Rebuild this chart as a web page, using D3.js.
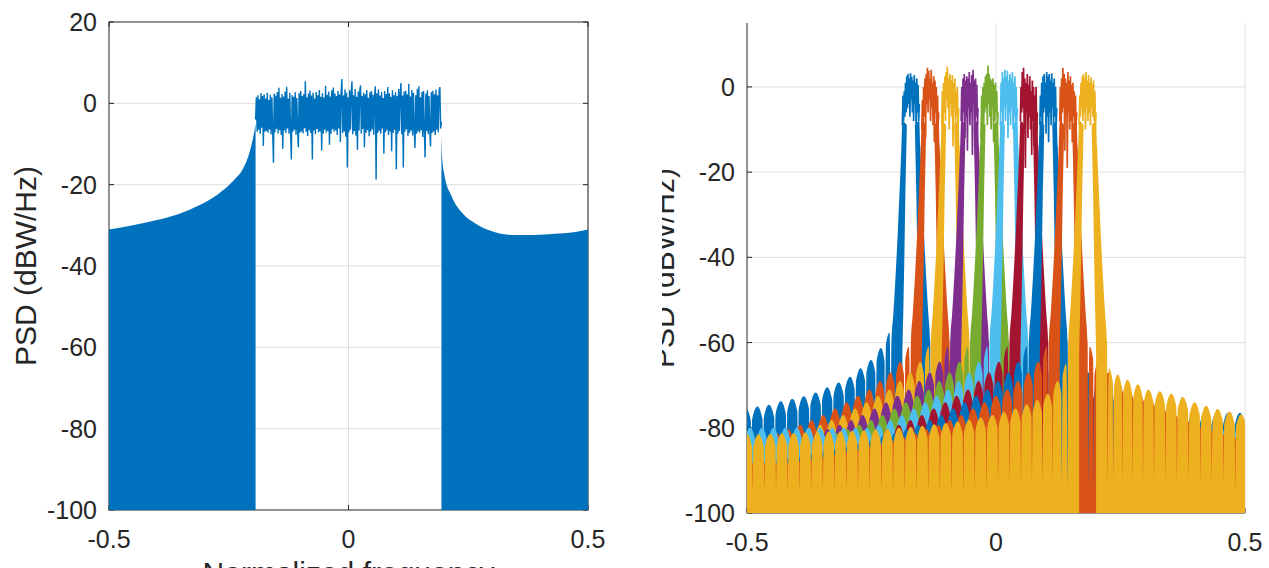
<!DOCTYPE html>
<html><head><meta charset="utf-8">
<script src="https://cdn.jsdelivr.net/npm/d3@7"></script>
<style>
body{margin:0;background:#fff}
svg{display:block}
text{font-family:"Liberation Sans",Arial,Helvetica,sans-serif;fill:#262626}
</style>
</head><body>
<svg id="chart" width="1269" height="568"></svg>
<script>
// ---------------- DATA ----------------
const xTickValues = [-0.5, 0, 0.5];
const xTickLabels = ["-0.5", "0", "0.5"];
const leftYTicks = [20, 0, -20, -40, -60, -80, -100];
const rightYTicks = [0, -20, -40, -60, -80, -100];
const yLabel = "PSD (dBW/Hz)";
const xLabel = "Normalized frequency";

// Left panel: stop-band envelope (densely oscillating, appears filled)
const stopLeftFreq = [-0.5, -0.45, -0.4, -0.35, -0.314, -0.273, -0.24, -0.219, -0.207, -0.198, -0.194];
const stopLeftDb   = [-31, -30, -28.7, -27, -25.2, -22.4, -19, -15.8, -12.2, -7.8, -5];
const stopRightFreq = [0.194, 0.196, 0.2, 0.215, 0.24, 0.264, 0.306, 0.347, 0.388, 0.43, 0.47, 0.5];
const stopRightDb   = [-8, -14, -17.5, -22.8, -27.3, -29.5, -31.7, -32.4, -32.4, -32.1, -31.7, -31];

// Left panel: pass-band PSD samples from -0.194 to 0.194
const passStart = -0.194, passEnd = 0.194;
const passbandDb = [
 -4, 1.5, -7, 2, -6.5, 1, -7.5, 2.5, -6, 1.8,
 -10.5, 2.2, -7, 1.2, -6.8, 2.6, -7.2, 0.8, -6.4, 2.1,
 -7.6, 1.5, -6.9, -14.6, 2.4, -7.1, 1.9, -6.3, 2.8, -7.4,
 3.8, -6.6, 1.4, -7.8, 2.3, -11.2, 1.7, -6.7, 2.9, -7.3,
 4.1, -6.2, 1.1, -7.5, 2.6, -6.8, -13.8, 2.0, -7.0, 1.6,
 -6.5, 2.7, -7.7, 1.3, -6.4, -10.8, 2.5, -7.2, 3.0, -6.9,
 1.8, -7.4, 2.2, -6.1, 5.4, -7.0, 1.5, -8.0, 2.4, -6.6,
 3.1, -7.3, 1.9, -13.8, 2.6, -6.7, 1.2, -7.6, 2.8, -6.3,
 2.0, -7.1, 3.3, -6.9, 1.6, -11.6, 2.5, -7.4, 1.4, -6.5,
 4.3, -7.2, 2.1, -6.8, 2.9, -10.2, 1.7, -7.5, 3.2, -6.4,
 3.9, -7.0, 2.4, -6.6, 1.8, -7.8, 3.0, -6.2, 2.2, -9.5,
 2.7, 6.0, -7.3, 1.9, -6.9, 3.4, -8.2, 2.6, -15.8, 1.5,
 -7.1, 3.2, -6.5, 2.8, 5.4, -7.6, 2.0, -6.8, 3.5, -7.9,
 1.6, -11.4, 2.9, -6.7, 3.1, 4.4, -7.4, 1.8, -6.3, 2.6,
 -10.8, 2.2, -7.2, 3.3, -6.6, 1.4, -8.1, 2.7, -7.0, 3.0,
 -6.4, 2.1, -7.7, 1.7, 4.2, -18.7, 2.5, -7.3, 3.4, -6.8,
 1.9, -7.5, 2.8, -6.2, 1.3, -12.4, 3.0, -7.1, 2.3, -6.6,
 4.0, -7.8, 2.5, -6.9, 1.6, -11.8, 3.2, -7.2, 2.0, -6.5,
 2.7, -16.2, 1.8, -7.4, 3.5, -6.8, 2.4, 5.0, -7.6, 1.9,
 -15.8, 2.9, -7.0, 3.1, -6.4, 2.2, -8.0, 4.8, -7.3, 1.7,
 -6.7, 3.3, -7.9, 2.6, -6.3, -11.0, 2.0, -7.5, 3.6, -6.9,
 4.2, -7.2, 1.5, -6.6, 2.8, -8.3, 3.0, -7.0, -13.3, 2.4,
 -6.8, 3.2, -7.6, 1.8, -6.4, -10.6, 2.7, -7.3, 3.1, -6.9,
 2.2, -7.8, 3.4, -6.5, 2.0, -7.1, 3.0, 4.0, -6.2, -4.5
];

// Right panel: ten channels
const channelCenters = [-0.171, -0.132, -0.092, -0.053, -0.013, 0.026, 0.066, 0.105, 0.145, 0.184];
const channelColors = ["#0072BD", "#D95319", "#EDB120", "#7E2F8E", "#77AC30", "#4DBEEE", "#A2142F", "#0072BD", "#D95319", "#EDB120"];
const channelPassbandDb = [
 [-9, -2, -8, -1, -7, 1, -6, 2.5, -5, 3, -4, 2, -7, 3.2, -3, 2.4, -6, 1.5, -8, 2.8, -4, 1, -10, 2, -6, 0.5, -8, -4],
 [-10, -3, -9, 0, -7, 2, -12, 3, -4, 4.5, -6, 3.8, -3, 2, -8, 4, -5, 1, -9, 2.5, -13, 1.5, -6, 0, -10, -2, -9, -6],
 [-9, -1, -12, 1, -6, 2.5, -8, 3.5, -3, 4.8, -5, 2, -10, 3, -4, 1.5, -7, 2.8, -14, 1, -5, 2, -9, -1, -7, 0, -10, -5],
 [-8, 0, -10, 2, -6, 3, -12, 1.5, -7, 2.5, -15, 2, -5, 3.5, -9, 1, -6, 2.8, -16, 4, -4, 1.5, -11, 2, -7, 0.5, -9, -5],
 [-12, -2, -8, 0, -14, 1, -6, 2.5, -5, 3, -9, 5, -4, 3, -7, 2, -10, 1.5, -5, 2, -13, 0.5, -8, 1, -6, -1, -9, -6],
 [-9, 1, -6, 3.5, -10, 2, -5, 4, -8, 2.5, -4, 3.8, -12, 1.5, -6, 3, -9, 2, -5, 3.5, -10, 1, -7, 2.5, -11, 0, -8, -5],
 [-8, 0, -6, 3.5, -5, 4.5, -9, 2, -19, 1, -6, 3, -12, 0.5, -7, 2.5, -10, -1, -16, 1.5, -8, 0, -14, -2, -9, 0, -11, -6],
 [-9, -2, -7, 1, -17, 2.5, -6, 3, -5, 1, -11, 3.5, -7, 2.5, -13, 3, -6, 1.5, -9, 3.2, -5, 1, -10, 2, -7, 0, -9, -5],
 [-8, 0, -12, 2, -6, 4.5, -5, 3, -15, 2, -7, 1, -19, 3.5, -6, 1.5, -10, 2.5, -8, 0.5, -13, 1, -7, -1, -10, -2, -9, -6],
 [-9, -2, -7, 1, -5, 2.5, -8, 3, -6, 2, -10, 3.5, -5, 1.5, -8, 2.8, -6, 1, -9, 2.2, -5, 0.5, -7, 1.5, -8, -1, -9, -6]
];
const passHalfWidth = 0.017;   // channel pass-band half width (normalized freq)
// inner edge of each channel's skirts (distance from centre -> dB)
const innerEdgeOffset = [0.008, 0.011, 0.013, 0.015, 0.017, 0.017];
const innerEdgeDb     = [-9, -25, -40, -52, -62, -100];
// main-lobe outer transition (distance from centre -> dB)
const transitionOffset = [0.008, 0.017, 0.019, 0.021, 0.024, 0.027, 0.031, 0.035, 0.039];
const transitionDb     = [-9, -8, -14, -20, -28, -36, -45, -53, -60];
// side-lobe peaks (distance from centre -> dB)
const lobeOffset = [0.043, 0.060, 0.080, 0.101, 0.122, 0.145, 0.168, 0.191, 0.215, 0.238,
                    0.261, 0.285, 0.308, 0.332, 0.355, 0.379, 0.402, 0.426, 0.449, 0.473,
                    0.496, 0.520, 0.543, 0.567, 0.590, 0.614, 0.637, 0.661, 0.684, 0.708];
const blueOuterLobeDb = [-57.7, -61.3, -64.1, -66, -68, -69.4, -70.5, -71.7, -72.6, -73.2,
                         -73.8, -74.6, -75, -75.3, -75.6, -75.8, -76, -76, -76, -76.2,
                         -76.2, -76.3, -76.3, -76.4, -76.4, -76.5, -76.5, -76.5, -76.6, -76.6];
const yellowOuterLobeDb = [-66, -67.5, -68.7, -69.8, -71, -71.4, -72, -72.8, -74, -74.8,
                           -75.6, -76.2, -76.8, -78, -78.3, -78.5, -78.6, -78.7, -78.8, -78.9,
                           -79, -79, -79, -79, -79, -79, -79, -79, -79, -79];
const yellowInnerLobeDb = [-65, -69, -72, -73.5, -74.5, -75.5, -76.3, -77, -77.6, -78.1,
                           -78.5, -78.9, -79.2, -79.5, -79.8, -80, -80.2, -80.4, -80.6, -80.7,
                           -80.8, -80.9, -81, -81.1, -81.2, -81.3, -81.4, -81.5, -81.5, -81.6];
const innerLobeDb = [-61, -64.5, -67, -69, -71, -72.5, -74, -75.5, -77, -78.2,
                     -79.3, -80.3, -81.2, -82, -82.8, -83.5, -84.2, -84.8, -85.4, -86,
                     -86.5, -87, -87.5, -88, -88, -88, -88, -88, -88, -88];
const leftLobeSet  = ["blueOuter", "inner", "inner", "inner", "inner", "inner", "inner", "inner", "inner", "yellowInner"];
const rightLobeSet = ["blueOuter", "inner", "inner", "inner", "inner", "inner", "inner", "inner", "inner", "yellowOuter"];
const lobeFloorDb  = [-200, -200, -200, -200, -200, -80, -200, -200, -200, -200];
const notchDb = -94;

// ---------------- DRAW ----------------
const svg = d3.select("#chart");
const AX = "#262626", GRID = "#dfdfdf", FS = 25, LFS = 30;
const lobeTables = {blueOuter: blueOuterLobeDb, yellowOuter: yellowOuterLobeDb, yellowInner: yellowInnerLobeDb, inner: innerLobeDb};

function panel(g, xs, ys, yTicks, boxed, clipId) {
  const [x0, x1] = xs.range(), [yb, yt] = ys.range();
  const grid = g.append("g");
  yTicks.forEach(t => { if (ys(t) > yt + 1 && ys(t) < yb - 1)
    grid.append("line").attr("x1", x0).attr("x2", x1).attr("y1", ys(t)).attr("y2", ys(t)).attr("stroke", GRID); });
  xTickValues.forEach(t => { if (xs(t) > x0 + 1)
    grid.append("line").attr("x1", xs(t)).attr("x2", xs(t)).attr("y1", yt).attr("y2", yb).attr("stroke", GRID); });
  const ax = g.append("g").attr("fill", "none").attr("stroke", AX);
  if (boxed) ax.append("rect").attr("x", x0).attr("y", yt).attr("width", x1 - x0).attr("height", yb - yt);
  else {
    ax.append("line").attr("x1", x0).attr("x2", x0).attr("y1", yt).attr("y2", yb);
    ax.append("line").attr("x1", x0).attr("x2", x1).attr("y1", yb).attr("y2", yb);
  }
  yTicks.forEach(t => {
    ax.append("line").attr("x1", x0).attr("x2", x0 + 5).attr("y1", ys(t)).attr("y2", ys(t));
    if (boxed) ax.append("line").attr("x1", x1).attr("x2", x1 - 5).attr("y1", ys(t)).attr("y2", ys(t));
  });
  xTickValues.forEach(t => {
    ax.append("line").attr("x1", xs(t)).attr("x2", xs(t)).attr("y1", yb).attr("y2", yb - 5);
    if (boxed) ax.append("line").attr("x1", xs(t)).attr("x2", xs(t)).attr("y1", yt).attr("y2", yt + 5);
  });
  const lab = g.append("g").attr("font-size", FS);
  yTicks.forEach(t => lab.append("text").attr("x", x0 - 12).attr("y", ys(t)).attr("dy", "0.36em")
    .attr("text-anchor", "end").text(String(t)));
  xTickValues.forEach((t, i) => lab.append("text").attr("x", xs(t)).attr("y", yb + 38)
    .attr("text-anchor", "middle").text(xTickLabels[i]));
  svg.append("clipPath").attr("id", clipId).append("rect")
    .attr("x", x0).attr("y", yt).attr("width", x1 - x0).attr("height", yb - yt);
  return g.append("g").attr("clip-path", `url(#${clipId})`);
}

// ----- Left panel -----
const xL = d3.scaleLinear().domain([-0.5, 0.5]).range([109, 588]);
const yL = d3.scaleLinear().domain([-100, 20]).range([510, 22]);
const gL = svg.append("g");
const dL = panel(gL, xL, yL, leftYTicks, true, "clipL");
const stopArea = d3.area().x(d => xL(d[0])).y0(yL(-100)).y1(d => yL(d[1])).curve(d3.curveMonotoneX);
dL.append("path").datum(stopLeftFreq.map((f, i) => [f, stopLeftDb[i]])).attr("d", stopArea).attr("fill", "#0072BD");
dL.append("path").datum(stopRightFreq.map((f, i) => [f, stopRightDb[i]])).attr("d", stopArea).attr("fill", "#0072BD");
const passStep = (passEnd - passStart) / (passbandDb.length - 1);
dL.append("path").datum(passbandDb.map((v, i) => [passStart + i * passStep, v]))
  .attr("d", d3.line().x(d => xL(d[0])).y(d => yL(d[1])))
  .attr("fill", "none").attr("stroke", "#0072BD").attr("stroke-width", 1.4);
gL.append("text").attr("font-size", LFS).attr("text-anchor", "middle")
  .attr("transform", `translate(36,${(yL(20) + yL(-100)) / 2}) rotate(-90)`).text(yLabel);
gL.append("text").attr("font-size", LFS).attr("text-anchor", "middle")
  .attr("x", xL(0)).attr("y", 583).text(xLabel);

// ----- Right panel -----
const xR = d3.scaleLinear().domain([-0.5, 0.5]).range([747, 1245]);
const yR = d3.scaleLinear().domain([-100, 15]).range([513, 23]);
const gR = svg.append("g");
const dR = panel(gR, xR, yR, rightYTicks, false, "clipR");
const outerLine = d3.line().x(d => xR(d[0])).y(d => yR(d[1])).curve(d3.curveMonotoneX);
const SH = 0.0013;
function outerPoints(ci, side) {   // distance/dB pairs from the channel's inner top outward
  const c = channelCenters[ci];
  const table = lobeTables[side < 0 ? leftLobeSet[ci] : rightLobeSet[ci]];
  const floor = lobeFloorDb[ci];
  const pts = transitionOffset.map((o, j) => [o, transitionDb[j]]);
  pts.push([0.0405, notchDb]);
  for (let k = 0; k < lobeOffset.length; k++) {
    const L = Math.max(table[k], floor);
    const dIn = k === 0 ? 0.0405 : (lobeOffset[k - 1] + lobeOffset[k]) / 2;
    const dOut = k < lobeOffset.length - 1 ? (lobeOffset[k] + lobeOffset[k + 1]) / 2 : lobeOffset[k] + 0.0117;
    pts.push([dIn + SH, L - 3], [lobeOffset[k], L], [dOut - SH, L - 3], [dOut, notchDb]);
    if (Math.abs(c + side * dOut) > 0.53) break;
  }
  return pts;
}
function skirtPath(ci, side) {
  const c = channelCenters[ci];
  const outer = outerPoints(ci, side).map(p => [c + side * p[0], p[1]]);
  const inner = innerEdgeOffset.map((o, j) => [c + side * o, innerEdgeDb[j]]);
  const P = p => `${xR(p[0])},${yR(p[1])}`;
  if (side > 0) {
    const far = outer[outer.length - 1];
    let d = outerLine(outer);
    d += `L${P([far[0], -100])}`;
    inner.slice().reverse().forEach(p => { d += `L${P(p)}`; });
    return d + "Z";
  } else {
    const asc = outer.slice().reverse();
    let d = outerLine(asc);
    inner.forEach(p => { d += `L${P(p)}`; });
    d += `L${P([asc[0][0], -100])}`;
    return d + "Z";
  }
}
channelCenters.forEach((c, ci) => {
  const col = channelColors[ci];
  const g = dR.append("g");
  g.append("path").attr("d", skirtPath(ci, -1)).attr("fill", col);
  g.append("path").attr("d", skirtPath(ci, 1)).attr("fill", col);
  const vals = channelPassbandDb[ci];
  const step = 2 * passHalfWidth / (vals.length - 1);
  g.append("path").datum(vals.map((v, i) => [c - passHalfWidth + i * step, v]))
    .attr("d", d3.line().x(d => xR(d[0])).y(d => yR(d[1])))
    .attr("fill", "none").attr("stroke", col).attr("stroke-width", 1.7);
});
gR.append("text").attr("font-size", LFS).attr("text-anchor", "middle")
  .attr("transform", `translate(674,${(yR(15) + yR(-100)) / 2}) rotate(-90)`).text(yLabel);
// the right panel image is cropped on its left side
svg.append("rect").attr("x", 620).attr("y", 0).attr("width", 42).attr("height", 568).attr("fill", "#fff");
</script>
</body></html>
